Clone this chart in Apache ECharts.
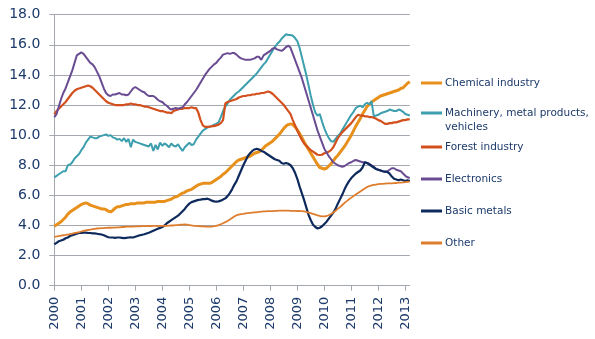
<!DOCTYPE html>
<html>
<head>
<meta charset="utf-8">
<script src="https://cdn.jsdelivr.net/npm/echarts@6/dist/echarts.min.js"></script>
<style>
  html, body { margin: 0; padding: 0; background: #fff; }
  #chart { width: 595px; height: 339px; }
</style>
</head>
<body>
<div id="chart"></div>
<script>
// Monthly index values, January 2000 to March 2013 (one row per year).
const startYear = 2000;
const monthCount = 159;

const chemical = [
  3.95, 4.05, 4.15, 4.25, 4.4, 4.55, 4.75, 4.9, 5.0, 5.1, 5.2, 5.3,
  5.4, 5.45, 5.5, 5.45, 5.35, 5.3, 5.25, 5.2, 5.15, 5.1, 5.1, 5.05,
  4.95, 4.9, 5.0, 5.15, 5.25, 5.25, 5.3, 5.35, 5.4, 5.4, 5.45, 5.45,
  5.45, 5.5, 5.5, 5.5, 5.5, 5.55, 5.55, 5.55, 5.55, 5.55, 5.6, 5.6,
  5.6, 5.6, 5.65, 5.7, 5.75, 5.85, 5.9, 5.95, 6.05, 6.15, 6.2, 6.3,
  6.35, 6.4, 6.5, 6.6, 6.7, 6.75, 6.8, 6.8, 6.8, 6.8, 6.85, 6.95,
  7.05, 7.15, 7.25, 7.4, 7.5, 7.65, 7.8, 7.95, 8.1, 8.25, 8.35, 8.4,
  8.45, 8.5, 8.55, 8.6, 8.7, 8.8, 8.85, 8.9, 9.0, 9.15, 9.3, 9.4,
  9.5, 9.6, 9.75, 9.9, 10.05, 10.25, 10.45, 10.6, 10.7, 10.75, 10.7, 10.55,
  10.35, 10.1, 9.85, 9.55, 9.3, 9.05, 8.8, 8.55, 8.3, 8.05, 7.85, 7.8,
  7.75, 7.8, 7.95, 8.1, 8.3, 8.5, 8.65, 8.85, 9.05, 9.25, 9.5, 9.75,
  10.0, 10.3, 10.6, 10.85, 11.1, 11.4, 11.65, 11.9, 12.05, 12.2, 12.3, 12.4,
  12.5, 12.6, 12.65, 12.7, 12.75, 12.8, 12.85, 12.9, 12.95, 13.0, 13.1, 13.15,
  13.3, 13.45, 13.55
];

const machinery = [
  7.2, 7.3, 7.4, 7.5, 7.6, 7.6, 8.0, 8.05, 8.2, 8.45, 8.6, 8.75,
  9.0, 9.2, 9.5, 9.7, 9.9, 9.85, 9.8, 9.8, 9.9, 9.95, 10.0, 10.05,
  9.95, 10.0, 9.85, 9.8, 9.7, 9.75, 9.6, 9.8, 9.55, 9.75, 9.2, 9.7,
  9.55, 9.5, 9.45, 9.4, 9.35, 9.3, 9.25, 9.45, 8.95, 9.35, 9.05, 9.5,
  9.3, 9.45, 9.35, 9.2, 9.45, 9.3, 9.25, 9.4, 9.15, 8.95, 9.2, 9.35,
  9.5, 9.35, 9.4, 9.7, 9.9, 10.1, 10.3, 10.4, 10.5, 10.55, 10.6, 10.7,
  10.75, 10.85, 11.2, 11.6, 11.9, 12.1, 12.35, 12.5, 12.65, 12.8, 12.9, 13.05,
  13.2, 13.35, 13.5, 13.65, 13.8, 13.95, 14.1, 14.3, 14.5, 14.7, 14.85, 15.1,
  15.35, 15.6, 15.85, 16.05, 16.2, 16.4, 16.55, 16.7, 16.65, 16.65, 16.6, 16.45,
  16.25, 15.8, 15.2, 14.6, 14.0, 13.3, 12.6, 12.0, 11.5, 11.3, 11.4, 10.9,
  10.45, 10.1, 9.8, 9.6, 9.55, 9.75, 9.95, 10.1, 10.35, 10.6, 10.85, 11.1,
  11.35, 11.55, 11.8, 11.9, 11.95, 11.85, 12.05, 12.15, 12.05, 12.25, 11.25, 11.3,
  11.35, 11.45, 11.5, 11.55, 11.6, 11.7, 11.65, 11.6, 11.6, 11.7, 11.65, 11.55,
  11.4, 11.35, 11.3
];

const forest = [
  11.4, 11.6, 11.75, 11.9, 12.05, 12.2, 12.4, 12.6, 12.8, 12.95, 13.05, 13.1,
  13.15, 13.2, 13.25, 13.3, 13.25, 13.15, 13.0, 12.85, 12.7, 12.55, 12.4, 12.25,
  12.15, 12.1, 12.05, 12.0, 12.0, 12.0, 12.0, 12.0, 12.05, 12.05, 12.1, 12.05,
  12.05, 12.0, 12.0, 11.95, 11.9, 11.9, 11.85, 11.8, 11.75, 11.7, 11.65, 11.6,
  11.6, 11.55, 11.5, 11.5, 11.45, 11.6, 11.65, 11.7, 11.75, 11.75, 11.8, 11.8,
  11.8, 11.85, 11.8, 11.8, 11.5, 11.0, 10.65, 10.55, 10.55, 10.56, 10.6, 10.6,
  10.65, 10.7, 10.8, 11.0, 12.1, 12.2, 12.25, 12.3, 12.35, 12.4, 12.5, 12.55,
  12.6, 12.6, 12.65, 12.65, 12.7, 12.7, 12.75, 12.75, 12.8, 12.8, 12.85, 12.9,
  12.85, 12.75, 12.6, 12.45, 12.3, 12.15, 12.0, 11.8, 11.6, 11.4, 11.0, 10.65,
  10.3, 10.0, 9.7, 9.45, 9.3, 9.15, 9.0, 8.9, 8.8, 8.7, 8.68, 8.7,
  8.8, 8.85, 8.9, 9.0, 9.2, 9.5, 9.8, 10.0, 10.2, 10.35, 10.5, 10.65,
  10.8, 11.0, 11.2, 11.35, 11.3, 11.3, 11.25, 11.25, 11.2, 11.2, 11.15, 11.1,
  11.0, 10.95, 10.85, 10.75, 10.75, 10.8, 10.8, 10.85, 10.85, 10.9, 10.95, 11.0,
  11.0, 11.05, 11.05
];

const electronics = [
  11.2, 11.4, 11.9, 12.4, 12.8, 13.1, 13.5, 13.9, 14.3, 14.8, 15.3, 15.4,
  15.5, 15.4, 15.2, 15.0, 14.8, 14.7, 14.5, 14.2, 13.9, 13.5, 13.1, 12.8,
  12.65, 12.6, 12.7, 12.7, 12.75, 12.8, 12.7, 12.7, 12.65, 12.7, 12.9, 13.1,
  13.2, 13.1, 13.0, 12.9, 12.85, 12.7, 12.6, 12.6, 12.6, 12.5, 12.35, 12.25,
  12.2, 12.05, 11.95, 11.8, 11.7, 11.75, 11.8, 11.75, 11.8, 11.85, 12.05, 12.2,
  12.4, 12.6, 12.8, 13.0, 13.25, 13.5, 13.75, 14.0, 14.2, 14.4, 14.55, 14.7,
  14.8, 15.0, 15.15, 15.35, 15.4, 15.45, 15.4, 15.45, 15.45, 15.35, 15.2, 15.1,
  15.05, 15.0, 15.0, 15.0, 15.05, 15.1, 15.2, 15.2, 15.0, 15.3, 15.4, 15.5,
  15.6, 15.75, 15.8, 15.7, 15.65, 15.6, 15.7, 15.85, 15.95, 15.8, 15.4, 15.0,
  14.6, 14.2, 13.8, 13.3, 12.8, 12.3, 11.8, 11.3, 10.8, 10.3, 9.9, 9.5,
  9.1, 8.85, 8.6, 8.4, 8.2, 8.1, 8.0, 7.95, 7.9, 7.95, 8.05, 8.15,
  8.2, 8.3, 8.35, 8.3, 8.25, 8.2, 8.2, 8.15, 8.1, 8.0, 7.9, 7.75,
  7.7, 7.65, 7.6, 7.55, 7.6, 7.7, 7.8, 7.8, 7.7, 7.65, 7.6, 7.45,
  7.3, 7.2, 7.15
];

const basicMetals = [
  2.75, 2.85, 2.95, 3.0, 3.05, 3.15, 3.2, 3.3, 3.35, 3.4, 3.45, 3.5,
  3.5, 3.52, 3.52, 3.5, 3.5, 3.48, 3.47, 3.45, 3.42, 3.4, 3.35, 3.28,
  3.22, 3.2, 3.2, 3.18, 3.2, 3.2, 3.18, 3.16, 3.18, 3.2, 3.22, 3.2,
  3.25, 3.3, 3.35, 3.38, 3.42, 3.47, 3.52, 3.58, 3.65, 3.72, 3.78, 3.84,
  3.9, 4.0, 4.15, 4.25, 4.35, 4.45, 4.55, 4.65, 4.8, 4.95, 5.1, 5.3,
  5.45, 5.55, 5.6, 5.65, 5.7, 5.72, 5.75, 5.75, 5.78, 5.72, 5.65, 5.6,
  5.58, 5.6, 5.65, 5.72, 5.8, 5.95, 6.15, 6.4, 6.7, 6.95, 7.3, 7.65,
  8.0, 8.3, 8.6, 8.8, 8.95, 9.05, 9.1, 9.05, 8.95, 8.9, 8.8, 8.7,
  8.6, 8.5, 8.4, 8.35, 8.3, 8.15, 8.1, 8.15, 8.1, 8.0, 7.8, 7.5,
  7.1, 6.6, 6.15, 5.7, 5.2, 4.7, 4.35, 4.05, 3.9, 3.8, 3.85, 3.95,
  4.1, 4.25, 4.45, 4.65, 4.85, 5.1, 5.45, 5.75, 6.05, 6.4, 6.7, 6.95,
  7.15, 7.3, 7.45, 7.55, 7.65, 7.85, 8.2, 8.15, 8.05, 7.95, 7.85, 7.75,
  7.7, 7.65, 7.6, 7.58, 7.55, 7.45, 7.25, 7.1, 7.05, 7.0, 7.05, 7.0,
  6.95, 7.0, 6.95
];

const other = [
  3.25, 3.27, 3.3, 3.33, 3.35, 3.37, 3.4, 3.43, 3.46, 3.5, 3.52, 3.55,
  3.6, 3.64, 3.68, 3.7, 3.72, 3.75, 3.78, 3.8, 3.81, 3.82, 3.82, 3.84,
  3.85, 3.85, 3.86, 3.86, 3.88, 3.88, 3.9, 3.9, 3.92, 3.92, 3.93, 3.93,
  3.94, 3.94, 3.95, 3.96, 3.96, 3.96, 3.97, 3.96, 3.97, 3.97, 3.96, 3.97,
  3.97, 3.98, 3.98, 3.99, 4.0, 4.0, 4.02, 4.03, 4.05, 4.06, 4.07, 4.05,
  4.03, 4.0, 3.98, 3.97, 3.96, 3.95, 3.94, 3.93, 3.93, 3.92, 3.93, 3.95,
  3.98, 4.03, 4.08, 4.15, 4.22, 4.3, 4.4, 4.5, 4.6, 4.68, 4.72, 4.75,
  4.77, 4.8, 4.82, 4.84, 4.86, 4.87, 4.88, 4.9, 4.92, 4.93, 4.94, 4.95,
  4.95, 4.96, 4.97, 4.97, 4.98, 4.98, 4.99, 4.98, 4.98, 4.97, 4.97, 4.97,
  4.96, 4.96, 4.95, 4.93, 4.9, 4.86, 4.82, 4.77, 4.72, 4.67, 4.63, 4.6,
  4.6, 4.63, 4.68, 4.76, 4.86, 4.98, 5.1, 5.22, 5.36, 5.5, 5.62, 5.74,
  5.85, 5.95, 6.05, 6.15, 6.25, 6.35, 6.45, 6.55, 6.62, 6.66, 6.7, 6.72,
  6.74, 6.76, 6.77, 6.78, 6.79, 6.8, 6.8, 6.81, 6.82, 6.84, 6.85, 6.86,
  6.88, 6.9, 6.91
];

const seriesNames = [
  'Chemical industry',
  'Machinery, metal products, vehicles',
  'Forest industry',
  'Electronics',
  'Basic metals',
  'Other'
];
const seriesValues = [chemical, machinery, forest, electronics, basicMetals, other];
const seriesColors = ['#E8901C', '#3E9FAE', '#D2501E', '#6A4C93', '#0E2A5C', '#DE7D2E'];
const seriesWidths = [3, 2, 2.2, 2, 2.2, 1.8];

// Month categories "YYYY-MM"
const months = [];
for (let i = 0; i < monthCount; i++) {
  const y = startYear + Math.floor(i / 12);
  const m = (i % 12) + 1;
  months.push(y + '-' + (m < 10 ? '0' + m : m));
}

const textColor = '#1C3A6A';
const gridColor = '#A3A7AE';
const fontFamily = '"DejaVu Sans", Verdana, sans-serif';

// Legend rows: vertical centre of each entry
const legendCentres = [83, 113, 147, 179, 211, 243];
const legendLabels = [
  'Chemical industry',
  'Machinery, metal products,',
  'Forest industry',
  'Electronics',
  'Basic metals',
  'Other'
];

const legends = seriesNames.map((name, i) => ({
  data: [name],
  left: 421,
  top: legendCentres[i] - 7,
  padding: 0,
  orient: 'vertical',
  icon: 'rect',
  itemWidth: 21,
  itemHeight: 3,
  selectedMode: false,
  formatter: () => legendLabels[i],
  textStyle: {
    color: textColor,
    fontFamily: fontFamily,
    fontSize: 10.5,
    lineHeight: 14,
    padding: [0, 0, 0, -2]
  }
}));

const chart = echarts.init(document.getElementById('chart'), null, { renderer: 'canvas' });

chart.setOption({
  animation: false,
  backgroundColor: '#ffffff',
  grid: { left: 54.3, right: 185.2, top: 14.7, bottom: 53.3 },
  legend: legends,
  graphic: [{
    type: 'text',
    left: 445,
    top: 122,
    style: {
      text: 'vehicles',
      fill: textColor,
      font: '10.5px ' + fontFamily
    }
  }],
  xAxis: {
    type: 'category',
    data: months,
    boundaryGap: false,
    axisLine: { show: true, lineStyle: { color: gridColor, width: 1 } },
    axisTick: {
      show: true,
      length: 5,
      interval: (idx) => idx % 12 === 0,
      lineStyle: { color: gridColor }
    },
    axisLabel: {
      interval: (idx) => idx % 12 === 0,
      formatter: (v) => v.slice(0, 4),
      rotate: 90,
      margin: 11,
      color: textColor,
      fontFamily: fontFamily,
      fontSize: 13
    },
    splitLine: { show: false }
  },
  yAxis: {
    type: 'value',
    min: 0,
    max: 18,
    interval: 2,
    axisLine: { show: true, lineStyle: { color: gridColor, width: 1 } },
    axisTick: { show: true, length: 5, lineStyle: { color: gridColor } },
    axisLabel: {
      formatter: (v) => v.toFixed(1),
      margin: 14,
      color: textColor,
      fontFamily: fontFamily,
      fontSize: 14
    },
    splitLine: { show: true, lineStyle: { color: gridColor, width: 1 } }
  },
  series: seriesNames.map((name, i) => ({
    name: name,
    type: 'line',
    data: seriesValues[i],
    showSymbol: false,
    symbol: 'none',
    color: seriesColors[i],
    lineStyle: { color: seriesColors[i], width: seriesWidths[i] },
    itemStyle: { color: seriesColors[i] },
    emphasis: { disabled: true }
  }))
});
</script>
</body>
</html>
